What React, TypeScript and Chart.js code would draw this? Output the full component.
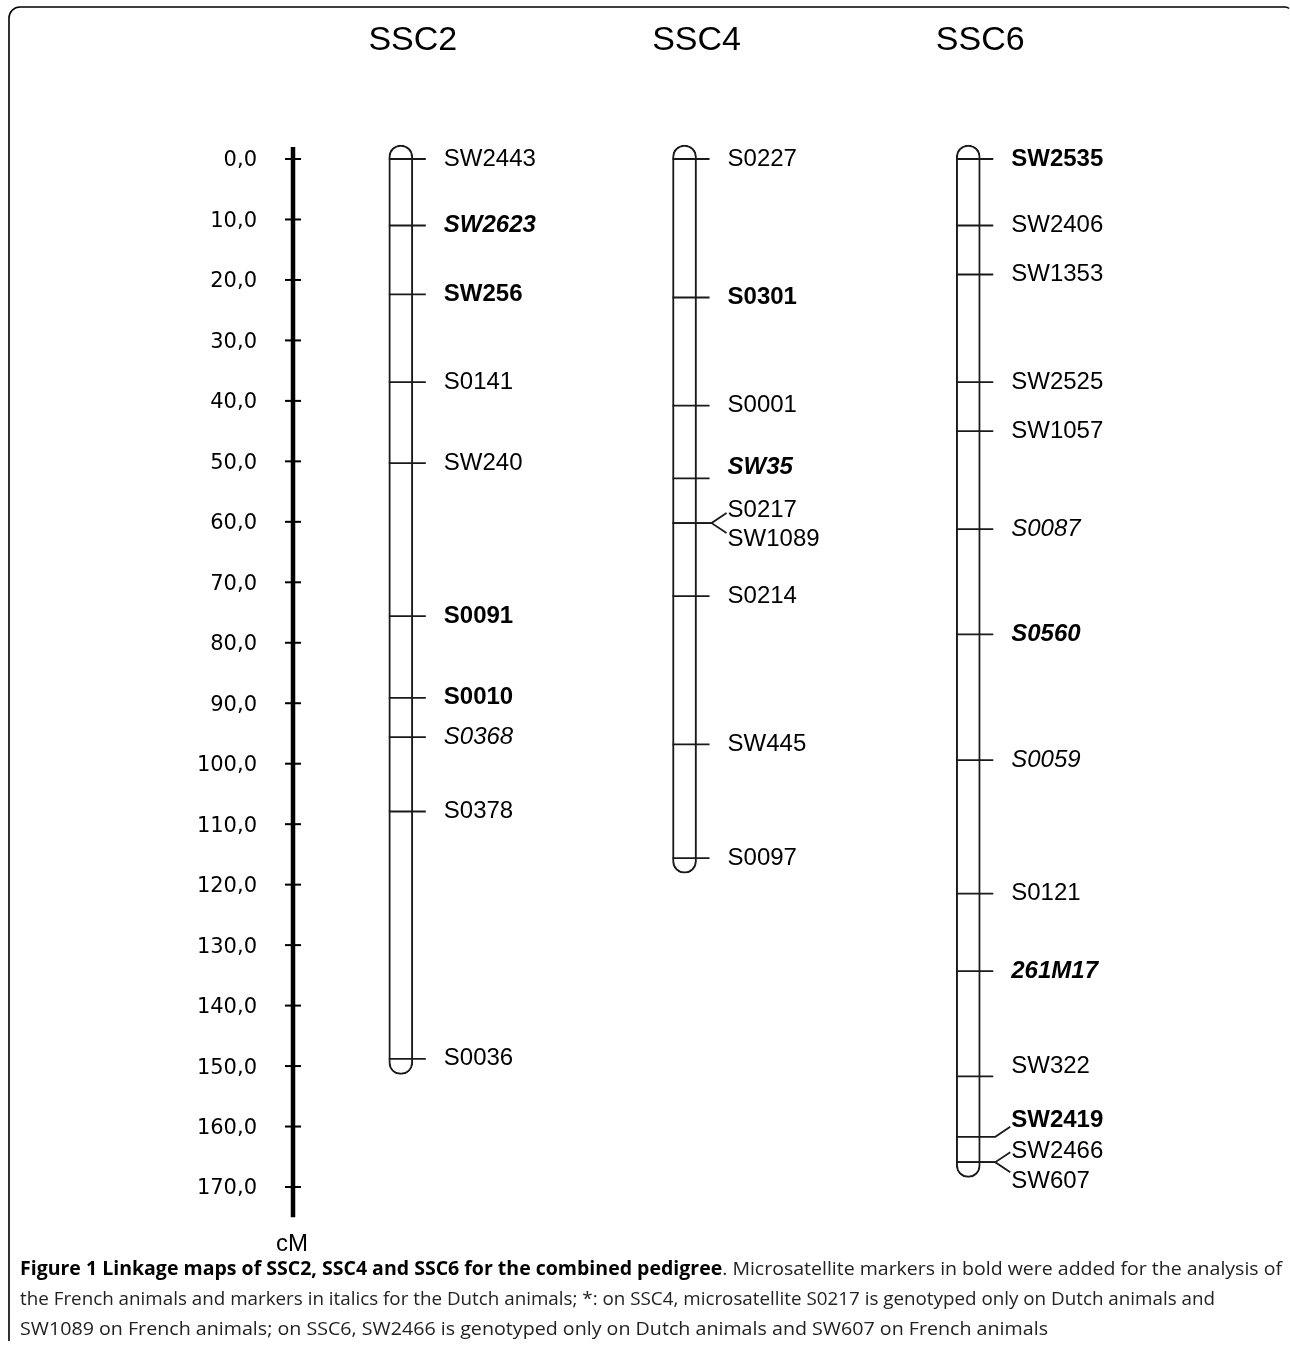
import React, { useEffect, useRef } from 'react';
import { Chart, registerables } from 'chart.js';

Chart.register(...registerables);

// ---------------- data ----------------
const chromosomes = ['SSC2', 'SSC4', 'SSC6'];
// extent of each drawn chromosome (cM), including the rounded ends
const chromosomeStart = [-2.3, -2.3, -2.3];
const chromosomeEnd = [151.4, 118.1, 168.4];

const ssc2Markers = ['SW2443', 'SW2623', 'SW256', 'S0141', 'SW240', 'S0091', 'S0010', 'S0368', 'S0378', 'S0036'];
const ssc2Positions = [0, 11.0, 22.4, 36.9, 50.3, 75.6, 89.1, 95.6, 107.9, 148.8];
// panel: F = added for French animals (bold), D = Dutch animals (italic)
const ssc2Panels = ['', 'FD', 'F', '', '', 'F', 'F', 'D', '', ''];

const ssc4Markers = ['S0227', 'S0301', 'S0001', 'SW35', 'S0217', 'SW1089', 'S0214', 'SW445', 'S0097'];
const ssc4Positions = [0, 22.9, 40.8, 52.8, 60.2, 60.2, 72.3, 96.8, 115.6];
const ssc4Panels = ['', 'F', '', 'FD', '', '', '', '', ''];

const ssc6Markers = ['SW2535', 'SW2406', 'SW1353', 'SW2525', 'SW1057', 'S0087', 'S0560', 'S0059', 'S0121', '261M17', 'SW322', 'SW2419', 'SW2466', 'SW607'];
const ssc6Positions = [0, 11.0, 19.1, 36.9, 45.0, 61.2, 78.6, 99.4, 121.5, 134.3, 151.7, 161.7, 165.9, 165.9];
const ssc6Panels = ['F', '', '', '', '', 'D', 'FD', 'D', '', 'FD', '', 'F', '', ''];

const cmMin = 0;
const cmMax = 170;
const cmStep = 10;
const axisTop = -2;
const axisBottom = 175;
const axisUnit = 'cM';

const captionLines = [
  [
    { text: 'Figure 1 Linkage maps of SSC2, SSC4 and SSC6 for the combined pedigree', bold: true },
    { text: '. Microsatellite markers in bold were added for the analysis of', bold: false },
  ],
  [
    { text: 'the French animals and markers in italics for the Dutch animals; *: on SSC4, microsatellite S0217 is genotyped only on Dutch animals and', bold: false },
  ],
  [
    { text: 'SW1089 on French animals; on SSC6, SW2466 is genotyped only on Dutch animals and SW607 on French animals', bold: false },
  ],
];

// ---------------- layout / style ----------------
const W = 1290;
const H = 1345;
const labelNudge: Record<string, number> = {
  SW35: -11, SW322: -10, SW2419: -16, S0217: -13, SW1089: 16, SW2466: -11, SW607: 19,
};
const linkedLabels = new Set(['S0217', 'SW1089', 'SW2419', 'SW2466', 'SW607']);
const captionTargets = [1262, 1195, 1028];
const captionBaselines = [1275, 1305, 1335];
const markerFont = '"Liberation Sans", Arial, sans-serif';

const maps = [
  { markers: ssc2Markers, pos: ssc2Positions, panels: ssc2Panels },
  { markers: ssc4Markers, pos: ssc4Positions, panels: ssc4Panels },
  { markers: ssc6Markers, pos: ssc6Positions, panels: ssc6Panels },
];

const mapPlugin = {
  id: 'linkageMap',
  afterDatasetsDraw(chart: any) {
    const { ctx, chartArea } = chart;
    const x = chart.scales.x;
    const y = chart.scales.y;
    ctx.save();
    ctx.fillStyle = '#000';

    // frame
    ctx.lineWidth = 1.6;
    ctx.strokeStyle = '#000';
    ctx.beginPath();
    ctx.moveTo(9, 1341);
    ctx.lineTo(9, 18);
    ctx.arcTo(9, 7, 20, 7, 11);
    ctx.lineTo(1285, 7);
    ctx.quadraticCurveTo(1287.5, 7, 1289, 8.5);
    ctx.stroke();

    // cM axis
    const ax = chartArea.left;
    ctx.strokeStyle = '#000';
    ctx.lineWidth = 4.5;
    ctx.beginPath();
    ctx.moveTo(ax, y.getPixelForValue(axisTop));
    ctx.lineTo(ax, y.getPixelForValue(axisBottom));
    ctx.stroke();
    ctx.lineWidth = 2;
    y.ticks.forEach((t: any) => {
      const py = y.getPixelForValue(t.value);
      ctx.beginPath();
      ctx.moveTo(ax - 8, py);
      ctx.lineTo(ax + 8, py);
      ctx.stroke();
    });
    ctx.font = `24px ${markerFont}`;
    ctx.textAlign = 'center';
    ctx.textBaseline = 'alphabetic';
    ctx.fillText(axisUnit, ax - 1, y.getPixelForValue(axisBottom) + 34);

    // titles
    ctx.font = `34px ${markerFont}`;
    chromosomes.forEach((name, i) => {
      ctx.fillText(name, x.getPixelForValue(i + 1) + 12, 49.5);
    });

    // markers
    ctx.textAlign = 'left';
    ctx.strokeStyle = '#1a1a1a';
    maps.forEach((m, i) => {
      const cx = x.getPixelForValue(i + 1);
      m.markers.forEach((name, j) => {
        const py = y.getPixelForValue(m.pos[j]);
        const linked = linkedLabels.has(name);
        const nudge = labelNudge[name] || 0;
        ctx.lineWidth = 1.8;
        ctx.beginPath();
        ctx.moveTo(cx - 12, py);
        if (linked) {
          const end = Math.sign(nudge) * Math.min(Math.abs(nudge), 10);
          ctx.lineTo(cx + 27, py);
          ctx.lineTo(cx + 42, py + end);
        } else {
          ctx.lineTo(cx + 25, py);
        }
        ctx.stroke();
        const panel = m.panels[j];
        const bold = panel.includes('F');
        const italic = panel.includes('D');
        ctx.font = `${italic ? 'italic ' : ''}${bold ? 'bold ' : ''}24px ${markerFont}`;
        ctx.fillStyle = '#000';
        ctx.fillText(name, cx + 43, py + nudge + 6.5);
      });
    });

    // caption
    captionLines.forEach((segs, li) => {
      let total = 0;
      const widths = segs.map((s) => {
        ctx.font = `${s.bold ? 'bold ' : ''}19px "Open Sans", sans-serif`;
        const w = ctx.measureText(s.text).width;
        total += w;
        return w;
      });
      const sc = captionTargets[li] / total;
      ctx.save();
      ctx.translate(20, captionBaselines[li]);
      ctx.scale(sc, 1);
      let cxp = 0;
      segs.forEach((s, k) => {
        ctx.font = `${s.bold ? 'bold ' : ''}19px "Open Sans", sans-serif`;
        ctx.fillStyle = s.bold ? '#000' : '#222';
        ctx.fillText(s.text, cxp, 0);
        cxp += widths[k];
      });
      ctx.restore();
    });

    ctx.restore();
  },
};

export default function App() {
  const ref = useRef<HTMLCanvasElement | null>(null);
  useEffect(() => {
    if (!ref.current) return;
    const chart = new Chart(ref.current, {
      type: 'bar',
      data: {
        datasets: [
          {
            data: chromosomes.map((_, i) => ({ x: i + 1, y: [chromosomeStart[i], chromosomeEnd[i]] })) as any,
            backgroundColor: '#fff',
            borderColor: '#1a1a1a',
            borderWidth: 2,
            borderRadius: 12,
            borderSkipped: false,
            barThickness: 24,
            clip: false as any,
          } as any,
        ],
      },
      options: {
        responsive: false,
        animation: false,
        events: [],
        layout: { padding: { top: 159, bottom: 158, left: 0, right: 0 } },
        plugins: { legend: { display: false }, tooltip: { enabled: false } },
        scales: {
          x: {
            type: 'linear',
            display: false,
            offset: false,
            min: 0.62,
            max: 4.134,
          },
          y: {
            type: 'linear',
            reverse: true,
            min: cmMin,
            max: cmMax,
            afterFit: (s: any) => {
              s.width = 293;
            },
            grid: { display: false, drawTicks: false },
            border: { display: false },
            ticks: {
              stepSize: cmStep,
              autoSkip: false,
              padding: 36,
              labelOffset: 2,
              color: '#000',
              font: { family: 'DejaVu Sans', size: 21 },
              callback: (v: any) => Number(v).toFixed(1).replace('.', ','),
            },
          },
        },
      },
      plugins: [mapPlugin],
    });
    return () => chart.destroy();
  }, []);
  return (
    <div style={{ position: 'absolute', left: 0, top: 0, width: W, height: H, background: '#fff' }}>
      <canvas ref={ref} width={W} height={H} style={{ display: 'block', width: W, height: H }} />
    </div>
  );
}
